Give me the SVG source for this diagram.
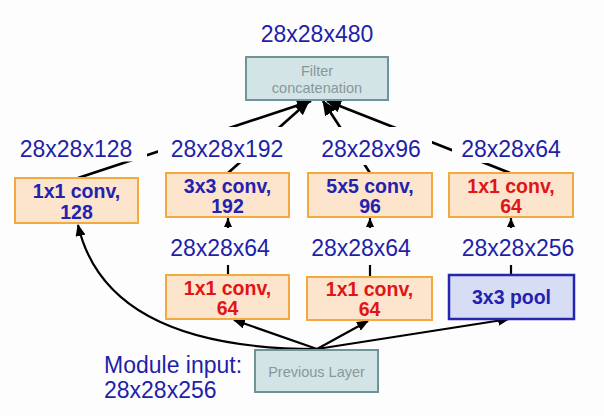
<svg xmlns="http://www.w3.org/2000/svg" width="604" height="416" viewBox="0 0 604 416">
<style>
.lbl{font-family:"Liberation Sans",Arial,sans-serif;font-size:23px;fill:#1f1fa8;text-anchor:middle}
.bt{font-family:"Liberation Sans",Arial,sans-serif;font-size:19.5px;font-weight:bold;text-anchor:middle}
.blue{fill:#2222b0}
.red{fill:#e01515}
.conv{fill:#fce4cd;stroke:#f2aa3c;stroke-width:2}
.pool{fill:#d7ddf5;stroke:#2626b0;stroke-width:2.5}
.grey{fill:#d2e4e6;stroke:#6e9497;stroke-width:2}
.gt{font-family:"Liberation Sans",Arial,sans-serif;font-size:14.5px;fill:#8a9799;text-anchor:middle}
.ln{stroke:#000;stroke-width:2.2;fill:none}
.top{stroke:#000;stroke-width:2.6;fill:none}
.bg{fill:#fdfdfd}
</style>
<defs>
<marker id="ah" markerUnits="userSpaceOnUse" markerWidth="12" markerHeight="10" refX="11" refY="5" orient="auto">
<path d="M0,0 L12,5 L0,10 z" fill="#000"/>
</marker>
<marker id="ahs" markerUnits="userSpaceOnUse" markerWidth="9" markerHeight="8" refX="9" refY="4" orient="auto">
<path d="M0,0 L9,4 L0,8 z" fill="#000"/>
</marker>
<marker id="ahb" markerUnits="userSpaceOnUse" markerWidth="15" markerHeight="13" refX="14" refY="6.5" orient="auto">
<path d="M0,0 L15,6.5 L0,13 z" fill="#000"/>
</marker>
</defs>
<rect width="604" height="416" fill="#fdfdfd"/>
<g id="connectors">
<line class="top" x1="78" y1="178" x2="311" y2="101" marker-end="url(#ahb)"/>
<line class="top" x1="228" y1="173" x2="309" y2="101" marker-end="url(#ahb)"/>
<line class="top" x1="370" y1="173" x2="323" y2="101" marker-end="url(#ahb)"/>
<line class="top" x1="510" y1="173" x2="327" y2="101" marker-end="url(#ahb)"/>
<line class="ln" x1="228" y1="275" x2="228" y2="218" marker-end="url(#ahs)"/>
<line class="ln" x1="370" y1="277" x2="370" y2="218" marker-end="url(#ahs)"/>
<line class="ln" x1="511" y1="275" x2="511" y2="218" marker-end="url(#ahs)"/>
<path class="ln" d="M317,349 C200,349 100,320 78,225" marker-end="url(#ah)"/>
<line class="ln" x1="317" y1="349" x2="234" y2="320" marker-end="url(#ah)"/>
<line class="ln" x1="317" y1="349" x2="368" y2="321" marker-end="url(#ah)"/>
<line class="ln" x1="317" y1="349" x2="509" y2="319" marker-end="url(#ah)"/>
</g>
<g id="labels">
<rect class="bg" x="14" y="127" width="133" height="34.5"/>
<rect class="bg" x="158" y="127" width="138" height="36"/>
<rect class="bg" x="308" y="127" width="124" height="38"/>
<rect class="bg" x="452" y="127" width="120" height="36"/>
<rect class="bg" x="165" y="228" width="125" height="37"/>
<rect class="bg" x="307" y="228" width="125" height="37"/>
<rect class="bg" x="455" y="228" width="125" height="37"/>
<text class="lbl" x="317" y="42">28x28x480</text>
<text class="lbl" x="76" y="157">28x28x128</text>
<text class="lbl" x="227" y="157">28x28x192</text>
<text class="lbl" x="371" y="157">28x28x96</text>
<text class="lbl" x="511" y="157">28x28x64</text>
<text class="lbl" x="220" y="256">28x28x64</text>
<text class="lbl" x="361" y="256">28x28x64</text>
<text class="lbl" x="518" y="256">28x28x256</text>
<text class="lbl" x="104" y="373" style="text-anchor:start">Module input:</text>
<text class="lbl" x="104" y="398" style="text-anchor:start">28x28x256</text>
</g>
<g id="concat">
<rect class="grey" x="246" y="57" width="142" height="43"/>
<text class="gt" x="317" y="76">Filter</text>
<text class="gt" x="317" y="93">concatenation</text>
</g>
<g id="conv1x1_128">
<rect class="conv" x="15" y="178" width="123" height="45"/>
<text class="bt blue" x="76.5" y="198">1x1 conv,</text>
<text class="bt blue" x="76.5" y="219">128</text>
</g>
<g id="conv3x3_192">
<rect class="conv" x="166" y="173" width="123" height="44"/>
<text class="bt blue" x="227.5" y="193">3x3 conv,</text>
<text class="bt blue" x="227.5" y="213">192</text>
</g>
<g id="conv5x5_96">
<rect class="conv" x="308" y="173" width="124" height="44"/>
<text class="bt blue" x="370" y="193">5x5 conv,</text>
<text class="bt blue" x="370" y="213">96</text>
</g>
<g id="conv1x1_64_pool">
<rect class="conv" x="449" y="173" width="124" height="44"/>
<text class="bt red" x="511" y="193">1x1 conv,</text>
<text class="bt red" x="511" y="213">64</text>
</g>
<g id="reduce_3x3">
<rect class="conv" x="166" y="275" width="123" height="44"/>
<text class="bt red" x="227.5" y="295">1x1 conv,</text>
<text class="bt red" x="227.5" y="315">64</text>
</g>
<g id="reduce_5x5">
<rect class="conv" x="307" y="277" width="125" height="43"/>
<text class="bt red" x="369.5" y="296">1x1 conv,</text>
<text class="bt red" x="369.5" y="316">64</text>
</g>
<g id="pool3x3">
<rect class="pool" x="449" y="275" width="125" height="44"/>
<text class="bt blue" x="511.5" y="304">3x3 pool</text>
</g>
<g id="previous">
<rect class="grey" x="255" y="350" width="123" height="42"/>
<text class="gt" x="316.5" y="377">Previous Layer</text>
</g>
</svg>
